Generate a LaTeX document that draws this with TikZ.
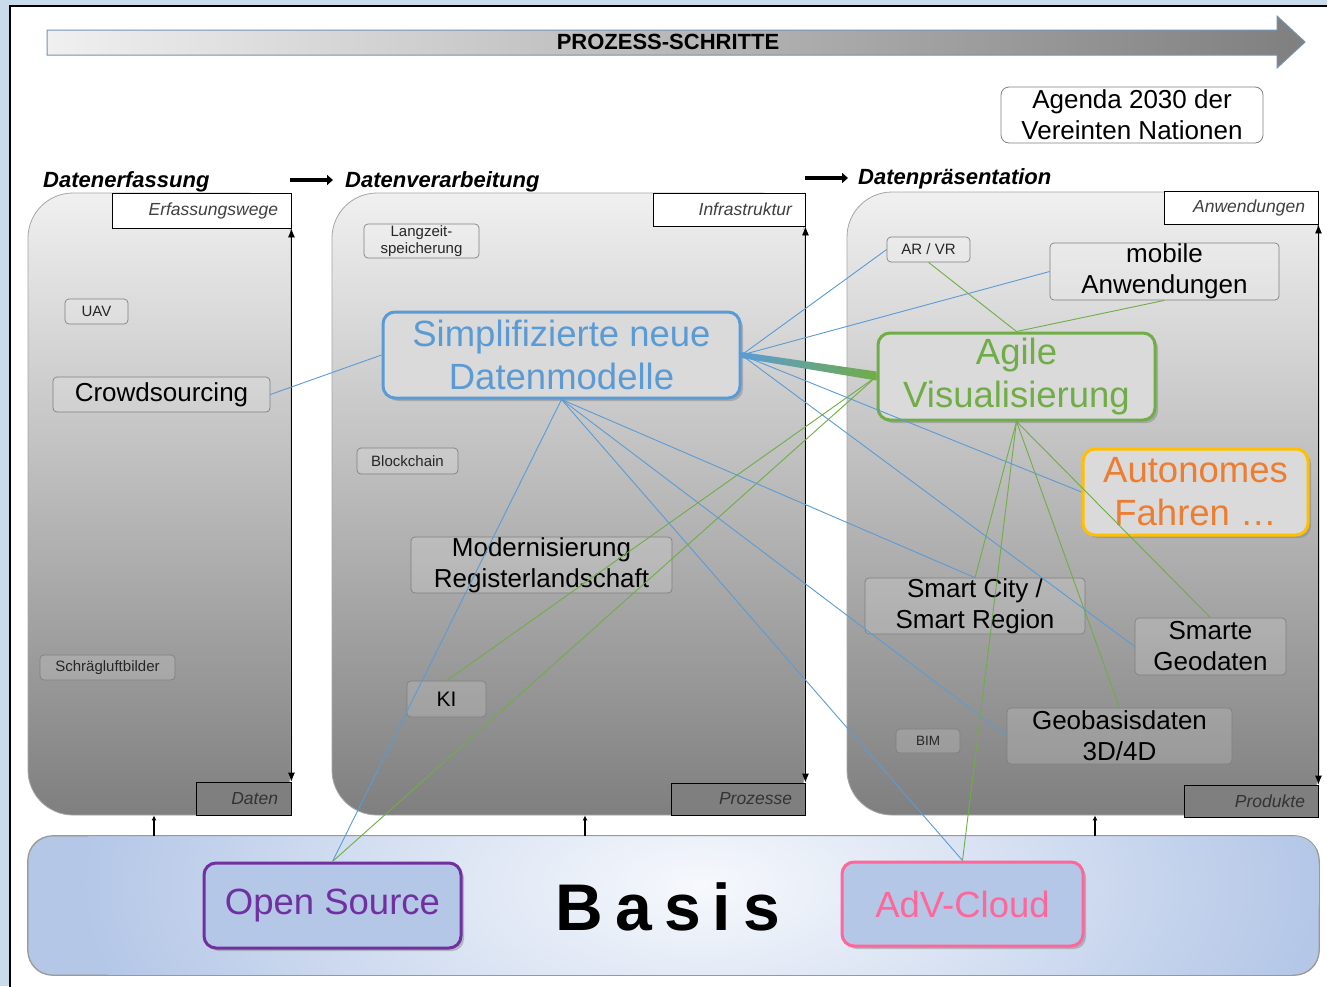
\documentclass[tikz,border=0pt]{standalone}
\usepackage{fontspec}
\setmainfont{Liberation Sans}
\usetikzlibrary{arrows.meta,shadows,calc}

\definecolor{frameblue}{HTML}{C8DCEC}
\definecolor{cblue}{HTML}{5B9BD5}
\definecolor{cgreen}{HTML}{70AD47}
\definecolor{corange}{HTML}{ED7D31}
\definecolor{cyellow}{HTML}{FFC000}
\definecolor{cpurple}{HTML}{7030A0}
\definecolor{cpink}{HTML}{FF6699}
\definecolor{basisblue}{HTML}{B4C7E7}
\definecolor{boxfill}{HTML}{DADADA}
\definecolor{arrowedge}{HTML}{7393B3}
\definecolor{ptop}{HTML}{F0F0F0}
\definecolor{pbot}{HTML}{7F7F7F}

\pgfdeclareradialshading{basisglow}{\pgfpoint{0bp}{0bp}}{color(0bp)=(white!88!basisblue); color(10bp)=(white!55!basisblue); color(25bp)=(basisblue); color(50bp)=(basisblue)}

\tikzset{
  panel/.style={draw=black!35, line width=0.8pt, top color=ptop, bottom color=pbot, rounded corners=45pt, inner sep=0pt},
  smallbox/.style={draw=black!50, line width=0.7pt, fill=white, fill opacity=0.15, text opacity=1, rounded corners=4pt, inner sep=0pt, align=center, font=\fontsize{15}{17}\selectfont, text=black!85},
  midbox/.style={smallbox, font=\fontsize{26}{31}\selectfont, text=black},
  keybox/.style={fill=boxfill, line width=3pt, rounded corners=12pt, inner sep=0pt, align=center, font=\fontsize{36.5}{43}\selectfont, drop shadow={opacity=0.45, shadow xshift=3pt, shadow yshift=-3pt}},
  lblbox/.style={draw=black, line width=0.9pt, inner xsep=13pt, inner ysep=0pt, align=right, font=\fontsize{17.5}{20}\selectfont\itshape, text=black!75},
  coltitle/.style={anchor=base west, inner sep=0pt, font=\fontsize{22}{26}\selectfont\bfseries\itshape},
  bl/.style={cblue, line width=0.9pt},
  gr/.style={cgreen, line width=0.9pt},
  dblarrow/.style={draw=black, line width=0.9pt, {Latex[length=9pt,width=7pt]}-{Latex[length=9pt,width=7pt]}},
  uparrow/.style={draw=black, line width=1.8pt, -{Latex[length=5pt,width=5pt]}},
  titlearrow/.style={draw=black, line width=3.5pt, -{Triangle[length=6pt,width=10pt]}},
}

\begin{document}
\begin{tikzpicture}[x=1pt,y=-1pt]
\useasboundingbox (0,0) rectangle (1327,986);
\clip (0,0) rectangle (1327,986);

% outer frame
\fill[frameblue] (0,0) rectangle (1327,986);
\fill[white] (10,6) rectangle (1340,1000);
\draw[black, line width=2pt] (10,1000) -- (10,6) -- (1340,6);

% process arrow
\shade[left color=ptop, right color=pbot, draw=arrowedge, line width=1pt]
  (47,30) -- (1277,30) -- (1277,16) -- (1305,42) -- (1277,68) -- (1277,55) -- (47,55) -- cycle;
\node[font=\fontsize{22}{26}\selectfont\bfseries, inner sep=0pt] (prozess) at (668,42) {PROZESS-SCHRITTE};

% agenda
\node[draw=black!50, line width=0.8pt, fill=white, rounded corners=8pt, minimum width=262pt, minimum height=56pt, inner sep=0pt, align=center, font=\fontsize{26}{31}\selectfont] (agenda) at (1132,115) {Agenda 2030 der\\Vereinten Nationen};

% column titles
\node[coltitle] (t1) at (43,187) {Datenerfassung};
\node[coltitle] (t2) at (345,187) {Datenverarbeitung};
\node[coltitle] (t3) at (858,184) {Datenpräsentation};
\coordinate (a1s) at (290,180);
\coordinate (a1e) at (333,180);
\coordinate (a2s) at (805,178);
\coordinate (a2e) at (848,178);
\draw[titlearrow] (a1s) -- (a1e);
\draw[titlearrow] (a2s) -- (a2e);

% panels
\node[panel, minimum width=263pt, minimum height=622pt] (p1) at (159.5,504) {};
\node[panel, minimum width=473pt, minimum height=622pt] (p2) at (568.5,504) {};
\node[panel, minimum width=472pt, minimum height=623pt] (p3) at (1083,503.5) {};

% basis
\node[draw=black!40, line width=0.8pt, fill=basisblue, rounded corners=25pt, minimum width=1291pt, minimum height=139pt, inner sep=0pt] (basis) at (673.5,905.5) {};
\begin{scope}
  \clip[rounded corners=25pt] (basis.south west) rectangle (basis.north east);
  \shade[shading=basisglow] (700,885) ellipse (620pt and 300pt);
\end{scope}
\draw[draw=black!40, line width=0.8pt, rounded corners=25pt] (basis.south west) rectangle (basis.north east);
\node[font=\fontsize{66}{70}\selectfont\bfseries, inner sep=0pt] (basistxt) at (668,907) {B\hspace{12pt}a\hspace{12pt}s\hspace{12pt}i\hspace{12pt}s};

% label boxes
\node[lblbox, fill=white, minimum width=179pt, minimum height=35pt, text width=153pt] (erf) at (201.5,210.5) {Erfassungswege};
\node[lblbox, fill=pbot, text=black!80, minimum width=95pt, minimum height=33pt, text width=69pt] (daten) at (243.5,798.5) {Daten};
\node[lblbox, fill=white, minimum width=152pt, minimum height=33pt, text width=126pt] (infra) at (729,209.5) {Infrastruktur};
\node[lblbox, fill=pbot, text=black!80, minimum width=134pt, minimum height=32pt, text width=108pt] (proz) at (738,799) {Prozesse};
\node[lblbox, fill=white, minimum width=154pt, minimum height=33pt, text width=128pt] (anw) at (1241,207.5) {Anwendungen};
\node[lblbox, fill=pbot, text=black!80, minimum width=134pt, minimum height=32pt, text width=108pt] (prod) at (1251,801) {Produkte};

\draw[dblarrow] (erf.south east) -- (daten.north east);
\draw[dblarrow] (infra.south east) -- (proz.north east);
\draw[dblarrow] (anw.south east) -- (prod.north east);

% arrows from basis to panels
\draw[uparrow] (154,0 |- basis.north) -- (154,0 |- p1.south);
\draw[uparrow] (585,0 |- basis.north) -- (585,0 |- p2.south);
\draw[uparrow] (1095,0 |- basis.north) -- (1095,0 |- p3.south);

% column 1
\node[smallbox, minimum width=63pt, minimum height=25pt] (uav) at (96.5,311.5) {UAV};
\node[midbox, minimum width=217pt, minimum height=35pt] (crowd) at (161.5,394.5) {Crowdsourcing};
\node[smallbox, minimum width=135pt, minimum height=25pt] (schraeg) at (107.5,667.5) {Schrägluftbilder};

% column 2
\node[smallbox, minimum width=115pt, minimum height=34pt] (langzeit) at (421.5,241) {Langzeit-\\speicherung};
\node[keybox, draw=cblue, text=cblue, minimum width=357pt, minimum height=86pt] (snd) at (561.5,355) {Simplifizierte neue\\Datenmodelle};
\node[smallbox, minimum width=101pt, minimum height=26pt] (block) at (407.5,461) {Blockchain};
\node[midbox, minimum width=261pt, minimum height=56pt] (modern) at (541.5,565) {Modernisierung\\Registerlandschaft};
\node[smallbox, font=\fontsize{21}{24}\selectfont, text=black, minimum width=79pt, minimum height=36pt] (ki) at (446.5,699) {KI};

% column 3
\node[smallbox, minimum width=83pt, minimum height=25pt] (arvr) at (928.5,249.5) {AR / VR};
\node[midbox, minimum width=229pt, minimum height=57pt] (mobile) at (1164.5,271.5) {mobile\\Anwendungen};
\node[keybox, draw=cgreen, text=cgreen, minimum width=277pt, minimum height=87pt] (agile) at (1016.5,376.5) {Agile\\Visualisierung};
\node[keybox, draw=cyellow, text=corange, minimum width=225pt, minimum height=86pt] (auto) at (1195.5,492) {Autonomes\\Fahren …};
\node[midbox, minimum width=220pt, minimum height=56pt] (smcity) at (975,606) {Smart City /\\Smart Region};
\node[midbox, minimum width=151pt, minimum height=57pt] (smgeo) at (1210.5,646.5) {Smarte\\Geodaten};
\node[smallbox, font=\fontsize{13.5}{16}\selectfont, minimum width=64pt, minimum height=24pt] (bim) at (928,741) {BIM};
\node[midbox, minimum width=225pt, minimum height=56pt] (geobasis) at (1119.5,736) {Geobasisdaten\\3D/4D};

% basis boxes
\node[keybox, fill=basisblue, draw=cpurple, text=cpurple, minimum width=257pt, minimum height=85pt] (opensrc) at (332.5,905.5) {Open Source};
\node[keybox, fill=basisblue, draw=cpink, text=cpink, minimum width=241pt, minimum height=84pt] (adv) at (962.5,904) {AdV-Cloud};

% thick gradient connector
\shade[left color=cblue, right color=cgreen]
  ($(snd.east)+(0,-3)$) -- ($(agile.west)+(0,-5)$) -- ($(agile.west)+(0,4)$) -- ($(snd.east)+(0,3)$) -- cycle;

% blue connectors
\draw[bl] (snd.west) -- (crowd.east);
\draw[bl] (snd.east) -- (arvr.west);
\draw[bl] (snd.east) -- (mobile.west);
\draw[bl] (snd.east) -- (auto.west);
\draw[bl] (snd.east) -- (smgeo.west);
\draw[bl] (snd.south) -- (opensrc.north);
\draw[bl] (snd.south) -- (smcity.north);
\draw[bl] (snd.south) -- (geobasis.west);
\draw[bl] (snd.south) -- (adv.north);

% green connectors
\draw[gr] (agile.north) -- (arvr.south);
\draw[gr] (agile.north) -- (mobile.south);
\draw[gr] (agile.west) -- (ki.north);
\draw[gr] (agile.west) -- (opensrc.north);
\draw[gr] (agile.south) -- (smcity.north);
\draw[gr] (agile.south) -- (adv.north);
\draw[gr] (agile.south) -- (geobasis.north);
\draw[gr] (agile.south) -- (smgeo.north);
\end{tikzpicture}
\end{document}
